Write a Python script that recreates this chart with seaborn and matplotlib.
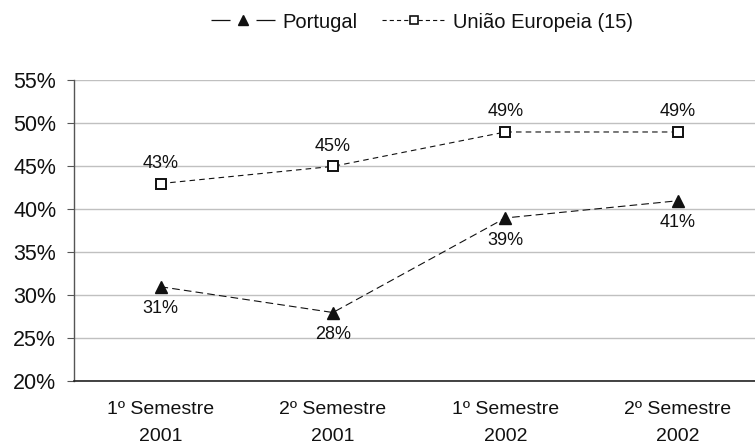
import matplotlib
matplotlib.use("Agg")
import matplotlib.pyplot as plt
import seaborn as sns
import pandas as pd
from matplotlib.ticker import FixedLocator, PercentFormatter, NullFormatter
from matplotlib.lines import Line2D

categories = ["1º Semestre\n2001", "2º Semestre\n2001", "1º Semestre\n2002", "2º Semestre\n2002"]
portugal = [31, 28, 39, 41]
ue15 = [43, 45, 49, 49]
series_names = ["Portugal", "União Europeia (15)"]
y_ticks = [20, 25, 30, 35, 40, 45, 50, 55]

sns.set_theme(style="white")
plt.rcParams["font.family"] = ["Liberation Sans", "DejaVu Sans"]
plt.rcParams["text.color"] = "#111111"
plt.rcParams["xtick.color"] = "#111111"
plt.rcParams["ytick.color"] = "#111111"
plt.rcParams["lines.scale_dashes"] = False

df = pd.DataFrame({
    "pos": list(range(len(categories))) * 2,
    "valor": portugal + ue15,
    "serie": [series_names[0]] * len(portugal) + [series_names[1]] * len(ue15),
})

fig = plt.figure(figsize=(7.55, 4.48), dpi=100)
ax = fig.add_axes([74.3 / 755, (448 - 381.3) / 448, (764.0 - 74.3) / 755, 300.9 / 448])

styles = {
    series_names[0]: dict(marker="^", mfc="#111111", mec="#111111", ms=8, mew=1.0, dashes=(5.5, 3)),
    series_names[1]: dict(marker="s", mfc="white", mec="#111111", ms=7, mew=1.4, dashes=(4, 3)),
}

for name in series_names:
    sub = df[df["serie"] == name]
    st = styles[name]
    sns.lineplot(data=sub, x="pos", y="valor", ax=ax, color="#111111", lw=0.8,
                 legend=False)
    ax.lines[-1].set_dashes(st["dashes"])
    ax.plot(sub["pos"], sub["valor"], ls="none", marker=st["marker"], mfc=st["mfc"],
            mec=st["mec"], ms=st["ms"], mew=st["mew"], zorder=5)

for i, v in enumerate(portugal):
    ax.annotate(f"{v}%", (i, v), xytext=(0, -16), textcoords="offset points",
                ha="center", va="center", fontsize=13)
for i, v in enumerate(ue15):
    ax.annotate(f"{v}%", (i, v), xytext=(0, 14.5), textcoords="offset points",
                ha="center", va="center", fontsize=13)

ax.set_xlim(-0.5, len(categories) - 0.5)
ax.set_ylim(20, 55)
ax.yaxis.set_major_locator(FixedLocator(y_ticks))
ax.yaxis.set_major_formatter(PercentFormatter(decimals=0))
ax.set_xticks(range(len(categories)))
ax.xaxis.set_major_formatter(NullFormatter())
ax.xaxis.set_minor_locator(FixedLocator([i - 0.5 for i in range(len(categories) + 1)]))
ax.tick_params(axis="x", which="major", length=0)
ax.tick_params(axis="x", which="minor", length=5, width=0.8, color="#555555", direction="out")
ax.tick_params(axis="y", which="major", length=5, width=0.8, color="#555555", direction="out",
               labelsize=15.5, pad=8, left=True)
ax.set_xlabel("")
ax.set_ylabel("")

# two-line category labels under each point
for i, cat in enumerate(categories):
    ax.annotate(cat, xy=(i, 0), xycoords=("data", "axes fraction"), xytext=(0, -14),
                textcoords="offset points", ha="center", va="top", fontsize=14,
                linespacing=1.8, annotation_clip=False)

ax.grid(axis="y", color="#c0c0c0", lw=1.0)
ax.set_axisbelow(True)
for s in ["top", "right"]:
    ax.spines[s].set_visible(False)
ax.spines["left"].set_color("#555555")
ax.spines["left"].set_linewidth(1.0)
ax.spines["bottom"].set_color("#222222")
ax.spines["bottom"].set_linewidth(1.2)

handles = [
    Line2D([], [], color="#111111", lw=0.9, dashes=(13.7, 18.7), marker="^", mfc="#111111", mec="#111111", ms=7),
    Line2D([], [], color="#111111", lw=0.8, dashes=(3, 2.2), marker="s", mfc="white", mec="#111111", ms=6, mew=1.2),
]
fig.legend(handles, series_names, loc="center", bbox_to_anchor=(422 / 755, 1 - 22 / 448), ncol=2,
           frameon=False, fontsize=14.5, handlelength=3.2, handletextpad=0.35, columnspacing=1.2)

fig.savefig("out.png", dpi=100)
